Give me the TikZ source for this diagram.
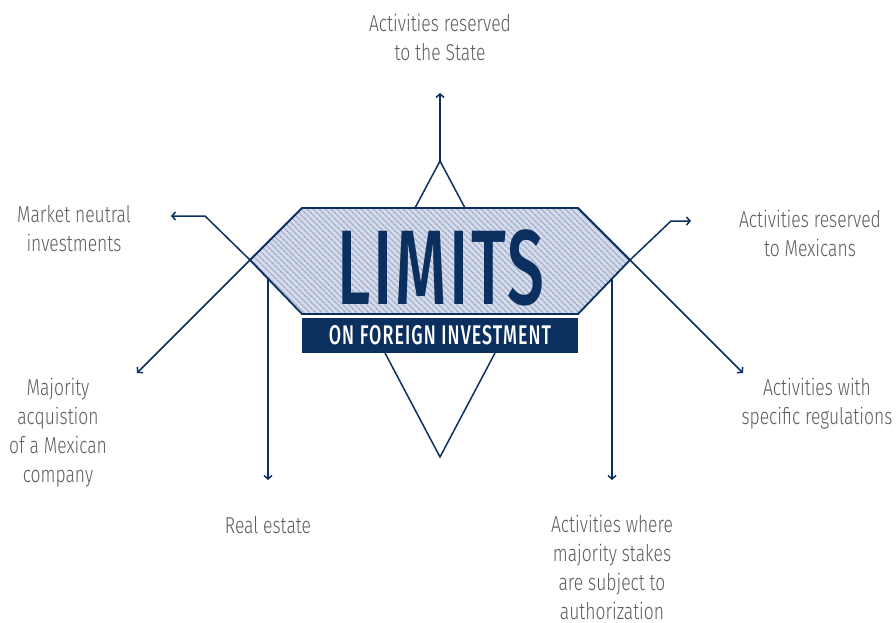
\documentclass[tikz,border=0pt]{standalone}
\usepackage{fontspec}
\setmainfont{Fira Sans}
\newfontfamily\lblfont{Fira Sans}[UprightFont=* Light,FakeStretch=0.76]
\newfontfamily\headfont{Fira Sans}[UprightFont=* Medium,FakeStretch=0.62,LetterSpace=2.5]
\newfontfamily\subfont{Fira Sans}[UprightFont=* Medium,FakeStretch=0.66,LetterSpace=4]
\usetikzlibrary{arrows.meta,patterns.meta}
\definecolor{navy}{HTML}{0B2F5E}
\definecolor{hatchbg}{HTML}{D6DCEA}
\definecolor{hatchln}{HTML}{A0ADCC}
\definecolor{lblgray}{HTML}{5C5C5C}

\begin{document}
\begin{tikzpicture}[x=1pt,y=-1pt,>={Straight Barb[length=3.5pt,width=8pt]},
  link/.style={draw=navy,line width=1.5pt},
  lbl/.style={font=\lblfont\fontsize{23}{29}\selectfont,text=lblgray,align=center,inner sep=0pt}]
\useasboundingbox (0,0) rectangle (896,623);
% hexagon corners
\coordinate (hw) at (250,260);\coordinate (hnw) at (302,208);\coordinate (hne) at (578,208);
\coordinate (he) at (630,260);\coordinate (hse) at (578,314);\coordinate (hsw) at (302,314);
\fill[hatchbg] (hw)--(hnw)--(hne)--(he)--(hse)--(hsw)--cycle;
\fill[pattern={Lines[angle=-45,distance=4pt,line width=1.5pt]},pattern color=hatchln]
  (hw)--(hnw)--(hne)--(he)--(hse)--(hsw)--cycle;
\draw[navy,line width=1.8pt] (hw)--(hnw)--(hne)--(he)--(hse)--(hsw)--cycle;
\node[font=\headfont\fontsize{106}{106}\selectfont,text=navy,inner sep=0pt] (limits) at (441,268) {LIMITS};
\node[fill=navy,text=white,minimum width=276,minimum height=35,inner sep=0pt,
  font=\subfont\fontsize{27}{27}\selectfont] (sub) at (440,335.5) {ON FOREIGN INVESTMENT};

% labels
\node[lbl] (state) at (440,37) {Activities reserved\\to the State};
\node[lbl] (neutral) at (74,229) {Market neutral\\investments};
\node[lbl] (mexicans) at (810,233) {Activities reserved\\to Mexicans};
\node[lbl] (acq) at (58,433) {Majority\\acquistion\\of a Mexican\\company};
\node[lbl] (estate) at (268,525) {Real estate};
\node[lbl] (stakes) at (612,567) {Activities where\\majority stakes\\are subject to\\authorization};
\node[lbl] (specific) at (817,404) {Activities with\\specific regulations};

% connectors
\coordinate (tl) at (415,208);\coordinate (tapex) at (440,161);\coordinate (tr) at (465,208);
\coordinate (topend) at (440,93);
\draw[link] (tl)--(tapex)--(tr);
\draw[link,->] (tapex)--(topend);
\coordinate (bl) at (385,353);\coordinate (bapex) at (440,457);\coordinate (br) at (495,353);
\draw[link] (bl)--(bapex)--(br);
\coordinate (nbend) at (205,216);\coordinate (nend) at (171,216);
\draw[link,->] (hw)--(nbend)--(nend);
\coordinate (aend) at (137,373);
\draw[link,->] (hw)--(aend);
\coordinate (es) at (268,278);\coordinate (eend) at (268,480);
\draw[link,->] (es)--(eend);
\coordinate (mbend) at (671,221);\coordinate (mend) at (691,221);
\draw[link,->] (he)--(mbend)--(mend);
\coordinate (send) at (743,373);
\draw[link,->] (he)--(send);
\coordinate (ss) at (612,278);\coordinate (ssend) at (612,480);
\draw[link,->] (ss)--(ssend);
\end{tikzpicture}
\end{document}
